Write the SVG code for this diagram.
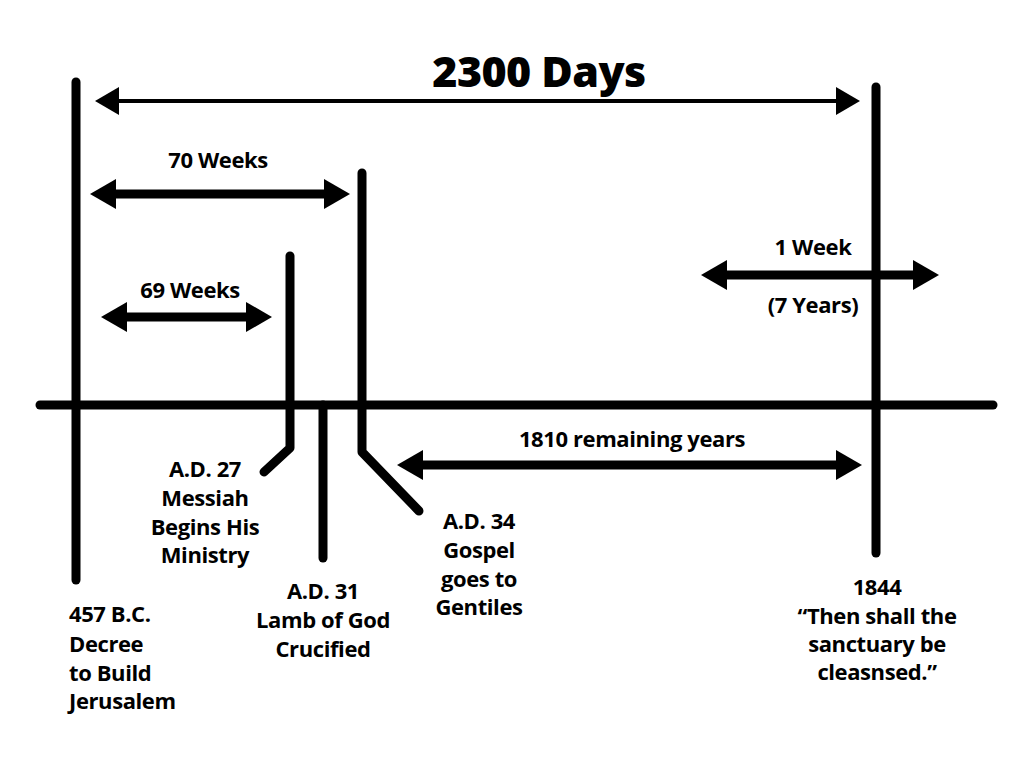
<svg xmlns="http://www.w3.org/2000/svg" width="1024" height="768" viewBox="0 0 1024 768">
  <style>
    .bar { stroke: #000; stroke-width: 9; stroke-linecap: round; stroke-linejoin: round; fill: none; }
    .span { stroke: #000; stroke-width: 9; fill: none; }
    .thin { stroke: #000; stroke-width: 4; fill: none; }
    text { font-family: "Open Sans", "Noto Sans", "Liberation Sans", sans-serif; font-weight: 700; fill: #000; font-size: 22px; letter-spacing: -0.4px; }
    .mid { text-anchor: middle; }
    .title { font-size: 43px; font-weight: 800; letter-spacing: -0.6px; }
  </style>
  <defs>
    <marker id="head" viewBox="0 0 26 30" refX="0" refY="15" markerWidth="26" markerHeight="30" markerUnits="userSpaceOnUse" orient="auto-start-reverse">
      <path d="M0,0 L26,15 L0,30 Z" fill="#000"/>
    </marker>
    <marker id="headThin" viewBox="0 0 24 28" refX="0" refY="14" markerWidth="24" markerHeight="28" markerUnits="userSpaceOnUse" orient="auto-start-reverse">
      <path d="M0,0 L24,14 L0,28 Z" fill="#000"/>
    </marker>
  </defs>

  <!-- timeline axis and event markers -->
  <g id="timeline">
    <line class="bar" x1="40" y1="405" x2="993" y2="405" stroke-width="10"/>
    <line id="bc457" class="bar" x1="76" y1="82" x2="76" y2="580"/>
    <polyline id="ad27" class="bar" points="290,256 290,448 264,472"/>
    <line id="ad31" class="bar" x1="323" y1="405" x2="323" y2="558"/>
    <polyline id="ad34" class="bar" points="362,173 362,452 419,511"/>
    <line id="y1844" class="bar" x1="876" y1="87" x2="876" y2="553"/>
  </g>

  <!-- period spans -->
  <g id="connectors">
    <line class="thin" x1="119" y1="101" x2="836" y2="101" marker-start="url(#headThin)" marker-end="url(#headThin)"/>
    <line class="span" x1="116" y1="194" x2="324" y2="194" marker-start="url(#head)" marker-end="url(#head)"/>
    <line class="span" x1="127" y1="317" x2="246" y2="317" stroke-width="8" marker-start="url(#head)" marker-end="url(#head)"/>
    <line class="span" x1="727" y1="275" x2="913" y2="275" marker-start="url(#head)" marker-end="url(#head)"/>
    <line class="span" x1="423" y1="465" x2="836" y2="465" marker-start="url(#head)" marker-end="url(#head)"/>
  </g>

  <!-- span labels -->
  <g id="span-labels">
    <text class="mid title" x="539" y="87">2300 Days</text>
    <text class="mid" x="218" y="168">70 Weeks</text>
    <text class="mid" x="190" y="298">69 Weeks</text>
    <text class="mid" x="813" y="255">1 Week</text>
    <text class="mid" x="813" y="313">(7 Years)</text>
    <text class="mid" x="632" y="447">1810 remaining years</text>
  </g>

  <!-- event labels -->
  <g id="label-bc457">
    <text x="69" y="622">457 B.C.</text>
    <text x="69" y="652">Decree</text>
    <text x="69" y="681">to Build</text>
    <text x="69" y="709">Jerusalem</text>
  </g>
  <g id="label-ad27">
    <text class="mid" x="205" y="477">A.D. 27</text>
    <text class="mid" x="205" y="506">Messiah</text>
    <text class="mid" x="205" y="535">Begins His</text>
    <text class="mid" x="205" y="563">Ministry</text>
  </g>
  <g id="label-ad31">
    <text class="mid" x="323" y="599">A.D. 31</text>
    <text class="mid" x="323" y="628">Lamb of God</text>
    <text class="mid" x="323" y="657">Crucified</text>
  </g>
  <g id="label-ad34">
    <text class="mid" x="479" y="529">A.D. 34</text>
    <text class="mid" x="479" y="558">Gospel</text>
    <text class="mid" x="479" y="587">goes to</text>
    <text class="mid" x="479" y="615">Gentiles</text>
  </g>
  <g id="label-1844">
    <text class="mid" x="877" y="595">1844</text>
    <text class="mid" x="877" y="624">“Then shall the</text>
    <text class="mid" x="877" y="652">sanctuary be</text>
    <text class="mid" x="877" y="680">cleasnsed.”</text>
  </g>
</svg>
